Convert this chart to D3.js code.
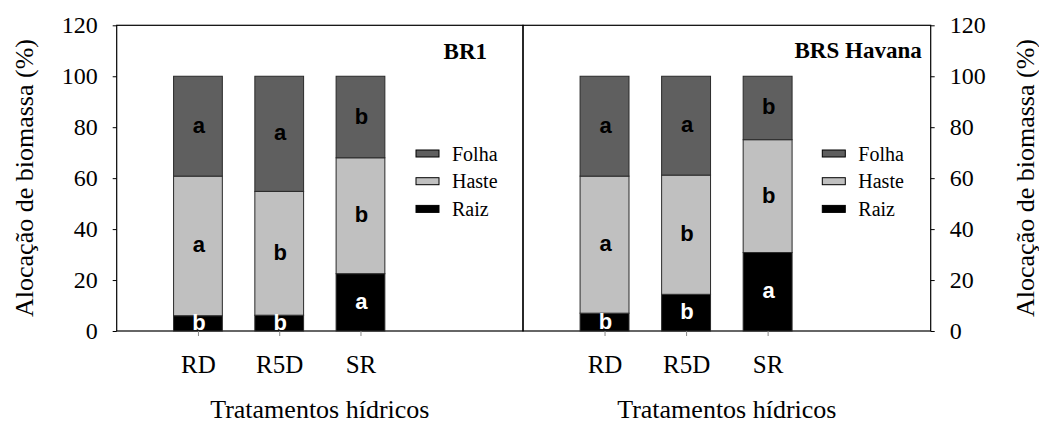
<!DOCTYPE html>
<html>
<head>
<meta charset="utf-8">
<script src="https://cdn.jsdelivr.net/npm/d3@7"></script>
<style>
  body { margin: 0; background: #fff; }
  svg { display: block; }
</style>
</head>
<body>
<script>
// categories and tick labels
const tratamentos = ["RD", "R5D", "SR"];
const yTicks = [0, 20, 40, 60, 80, 100, 120];
const partes = ["Folha", "Haste", "Raiz"];

// BR1 (% of biomass per part)
const br1Raiz = [6.0, 6.2, 22.5];
const br1Haste = [54.8, 48.6, 45.5];
const br1Folha = [39.2, 45.2, 32.0];
const br1LetrasRaiz = ["b", "b", "a"];
const br1LetrasHaste = ["a", "b", "b"];
const br1LetrasFolha = ["a", "a", "b"];

// BRS Havana
const havRaiz = [7.0, 14.4, 30.8];
const havHaste = [53.8, 46.8, 44.3];
const havFolha = [39.2, 38.8, 24.9];
const havLetrasRaiz = ["b", "b", "a"];
const havLetrasHaste = ["a", "b", "b"];
const havLetrasFolha = ["a", "a", "b"];

const w = 1039;
const h = 425;
const serif = "Liberation Serif";
const sans = "Liberation Sans";

const svg = d3.select("body").append("svg")
  .attr("width", w)
  .attr("height", h);

const y = d3.scaleLinear().domain([0, 120]).range([331, 25.3]);

const keys = ["raiz", "haste", "folha"];
const color = d3.scaleOrdinal()
  .domain(["folha", "haste", "raiz"])
  .range(["#5f5f5f", "#c0c0c0", "#000000"]);

const panels = [
  { nome: "BR1", x0: 116.7, x1: 523, side: "left", titleX: 487, titleY: 59,
    raiz: br1Raiz, haste: br1Haste, folha: br1Folha,
    letras: { raiz: br1LetrasRaiz, haste: br1LetrasHaste, folha: br1LetrasFolha } },
  { nome: "BRS Havana", x0: 523, x1: 930.7, side: "right", titleX: 921.7, titleY: 58,
    raiz: havRaiz, haste: havHaste, folha: havFolha,
    letras: { raiz: havLetrasRaiz, haste: havLetrasHaste, folha: havLetrasFolha } }
];

panels.forEach(p => {
  const x = d3.scaleLinear().domain([0, 5]).range([p.x0, p.x1]);
  const bw = (x(1) - x(0)) * 0.6;
  const rows = tratamentos.map((t, i) => ({
    trat: t, raiz: p.raiz[i], haste: p.haste[i], folha: p.folha[i]
  }));
  const series = d3.stack().keys(keys)(rows);
  const g = svg.append("g");

  // frame
  g.append("rect")
    .attr("x", p.x0)
    .attr("y", y(120))
    .attr("width", p.x1 - p.x0)
    .attr("height", y(0) - y(120))
    .attr("fill", "none")
    .attr("stroke", "#000")
    .attr("stroke-width", 1.2);

  // bars
  g.selectAll("g.layer")
    .data(series)
    .join("g")
    .attr("class", "layer")
    .attr("fill", d => color(d.key))
    .selectAll("rect")
    .data(d => d)
    .join("rect")
    .attr("x", (d, i) => x(i + 1) - bw / 2)
    .attr("width", bw)
    .attr("y", d => y(d[1]))
    .attr("height", d => y(d[0]) - y(d[1]))
    .attr("stroke", "#2a2a2a")
    .attr("stroke-width", 1);

  // significance letters
  series.forEach(s => {
    g.selectAll(null)
      .data(s)
      .join("text")
      .attr("x", (d, i) => x(i + 1) + 1)
      .attr("y", d => (y(d[0]) + y(d[1])) / 2 + 6.5)
      .attr("text-anchor", "middle")
      .style("font-family", sans)
      .style("font-weight", "bold")
      .style("font-size", "22px")
      .attr("fill", s.key === "raiz" ? "#fff" : "#000")
      .text((d, i) => p.letras[s.key][i]);
  });

  // y axis
  const yAxis = p.side === "left" ? d3.axisLeft(y) : d3.axisRight(y);
  const ya = g.append("g")
    .attr("transform", `translate(${p.side === "left" ? p.x0 : p.x1},0)`)
    .call(yAxis.tickValues(yTicks).tickSize(4).tickPadding(15));
  ya.select(".domain").remove();
  ya.selectAll("text")
    .style("font-family", serif)
    .style("font-size", "24px")
    .attr("fill", "#000");
  ya.selectAll("line").attr("stroke", "#000");

  // x axis
  const xa = g.append("g")
    .attr("transform", `translate(0,${y(0)})`)
    .call(d3.axisBottom(x)
      .tickValues(tratamentos.map((t, i) => i + 1))
      .tickFormat(d => tratamentos[d - 1])
      .tickSize(5)
      .tickPadding(19));
  xa.select(".domain").remove();
  xa.selectAll("line").attr("stroke", "#888");
  xa.selectAll("text")
    .style("font-family", serif)
    .style("font-size", "25px")
    .attr("fill", "#000");

  // x title
  g.append("text")
    .attr("x", (p.x0 + p.x1) / 2)
    .attr("y", 418)
    .attr("text-anchor", "middle")
    .style("font-family", serif)
    .style("font-size", "26px")
    .text("Tratamentos hídricos");

  // panel title
  g.append("text")
    .attr("x", p.titleX)
    .attr("y", p.titleY)
    .attr("text-anchor", "end")
    .style("font-family", serif)
    .style("font-weight", "bold")
    .style("font-size", "23px")
    .text(p.nome);

  // legend
  const lx = p.x0 + 299.3;
  const leg = g.selectAll("g.leg")
    .data(partes)
    .join("g")
    .attr("class", "leg")
    .attr("transform", (d, i) => `translate(${lx},${150 + i * 27.7})`);
  leg.append("rect")
    .attr("width", 23)
    .attr("height", 7)
    .attr("fill", d => color(d.toLowerCase()))
    .attr("stroke", "#000")
    .attr("stroke-width", 1);
  leg.append("text")
    .attr("x", 36)
    .attr("y", 10.7)
    .style("font-family", serif)
    .style("font-size", "20px")
    .text(d => d);
});

// y titles
[33, 1034].forEach(tx => {
  svg.append("text")
    .attr("transform", `translate(${tx},178) rotate(-90)`)
    .attr("text-anchor", "middle")
    .style("font-family", serif)
    .style("font-size", "26px")
    .text("Alocação de biomassa (%)");
});
</script>
</body>
</html>
